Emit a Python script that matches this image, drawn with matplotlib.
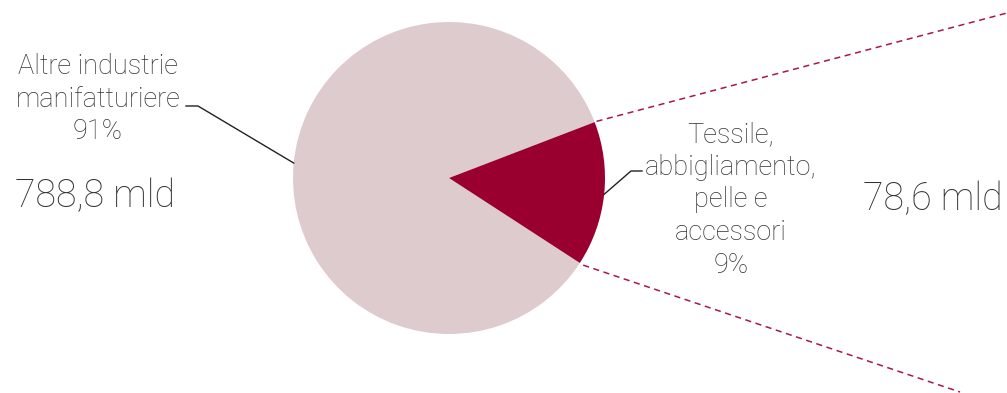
import numpy as np
import matplotlib.pyplot as plt

# valori
labels = ['Altre industrie\nmanifatturiere\n91%', 'Tessile,\nabbigliamento,\npelle e\naccessori\n9%']
amounts = ['788,8 mld', '78,6 mld']
sizes = [85, 15]          # ampiezza degli spicchi come disegnati
colors = ['#ddcbce', '#990030']

plt.rcParams['font.family'] = ['Roboto', 'DejaVu Sans']
txt = '#333333'

fig = plt.figure(figsize=(10.07, 3.93), dpi=100)
ax = fig.add_axes([0, 0, 1, 1])

cx, cy, r = 449, 215, 156
wedges, _ = ax.pie(sizes, colors=colors, startangle=21, center=(cx, cy),
                   radius=r, counterclock=True,
                   wedgeprops=dict(linewidth=0))
ax.set_xlim(0, 1007)
ax.set_ylim(0, 393)
ax.set_aspect('auto')
ax.axis('off')

def edge(ang, rr=r):
    a = np.deg2rad(ang)
    return cx + rr * np.cos(a), cy + rr * np.sin(a)

# linee tratteggiate verso il dettaglio
small = wedges[1]
x0, y0 = edge(small.theta2, r + 2)
ax.plot([x0, 1007], [y0, 380], ls=(0, (4, 3)), color='#a8174a', lw=1.1)
x1, y1 = edge(small.theta1, r + 4)
ax.plot([x1, 960], [y1, 1], ls=(0, (4, 3)), color='#a8174a', lw=1.1)

# richiami
px, py = edge(174.5)
ax.plot([186, 198, px], [287, 287, py], color='#222222', lw=1)
px, py = edge(-6)
ax.plot([px, 631, 642], [py, 222, 222], color='#222222', lw=1)

ax.text(98, 340, labels[0], ha='center', va='top', fontsize=19.5, fontweight='light',
        color=txt, linespacing=1.27)
ax.text(15, 197, amounts[0], ha='left', va='center', fontsize=27, fontweight='light',
        color=txt)
ax.text(731, 272, labels[1], ha='center', va='top', fontsize=19.5, fontweight='light',
        color=txt, linespacing=1.27)
ax.text(1003, 194, amounts[1], ha='right', va='center', fontsize=27, fontweight='light',
        color=txt)

fig.savefig('out.png', dpi=100)
